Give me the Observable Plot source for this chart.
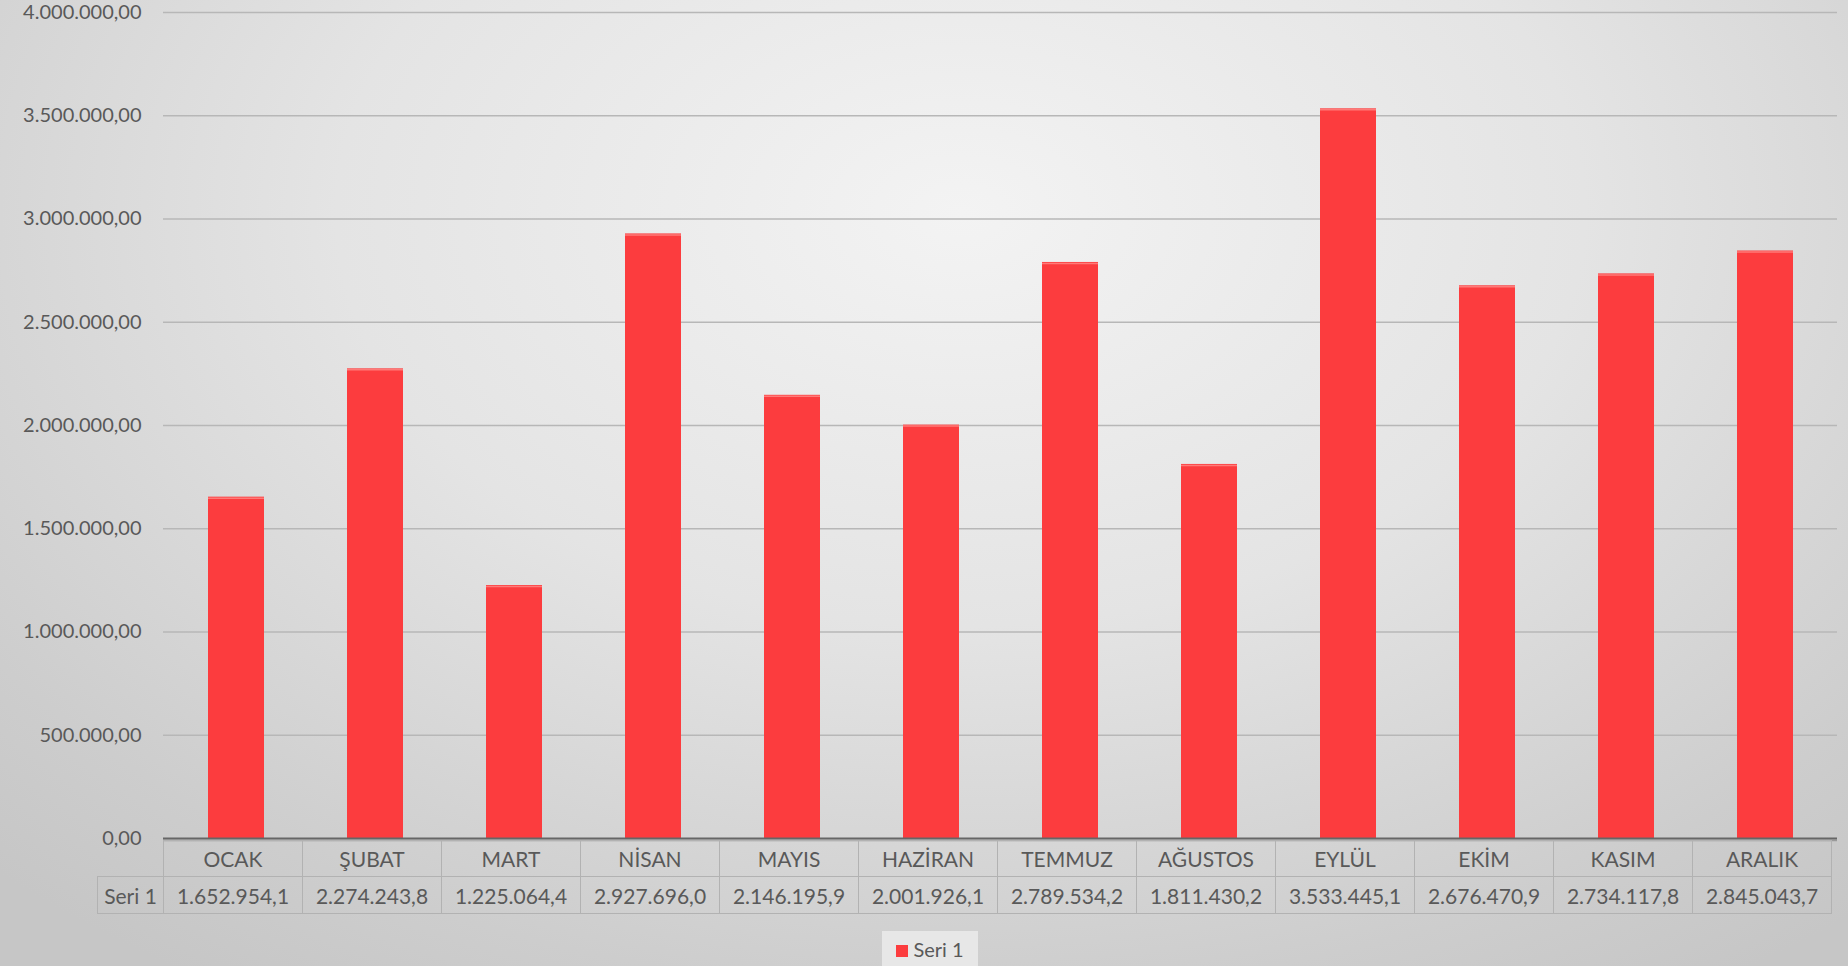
<!DOCTYPE html>
<html>
<head>
<meta charset="utf-8">
<script src="https://cdn.jsdelivr.net/npm/d3@7"></script>
<script src="https://cdn.jsdelivr.net/npm/@observablehq/plot@0.6"></script>
<style>
  html, body { margin: 0; padding: 0; }
  body {
    width: 1848px; height: 966px; overflow: hidden; position: relative;
    background: radial-gradient(ellipse 75% 95% at 52% 22%, #f3f3f3 0%, #e4e4e4 45%, #cdcdcd 85%, #c6c6c6 100%);
    font-family: Lato, "Open Sans", sans-serif;
    color: #595959;
  }
  #chart { position: absolute; left: 0; top: 0; }
  #chart svg { overflow: visible; }
  #table { position: absolute; left: 97px; top: 840px; border-collapse: collapse; table-layout: fixed; }
  #table td { border: 1px solid #b2b2b2; text-align: center; padding: 0; font-size: 21px; color: #595959; white-space: nowrap; overflow: hidden; }
  #table tr.cat td { height: 35px; }
  #table tr.val td { height: 36px; }
  #table td.blank { border: none; }
  #legend { position: absolute; left: 882px; top: 931px; width: 96px; height: 40px; background: rgba(235,235,235,0.85);
    display: flex; align-items: flex-start; justify-content: center; padding-top: 6px; box-sizing: border-box; font-size: 20px; color: #595959; }
  #legend span.sw { display: inline-block; width: 12px; height: 12px; background: #fc3c3e; margin-right: 5px; margin-top: 8px; }
</style>
</head>
<body>
<div id="chart"></div>
<table id="table"></table>
<div id="legend"></div>
<script>
const months = ["OCAK","ŞUBAT","MART","NİSAN","MAYIS","HAZİRAN","TEMMUZ","AĞUSTOS","EYLÜL","EKİM","KASIM","ARALIK"];
const values = [1652954.1, 2274243.8, 1225064.4, 2927696.0, 2146195.9, 2001926.1, 2789534.2, 1811430.2, 3533445.1, 2676470.9, 2734117.8, 2845043.7];
const seriesName = "Seri 1";
const yTicks = [0, 500000, 1000000, 1500000, 2000000, 2500000, 3000000, 3500000, 4000000];

const tr = d3.formatLocale({decimal: ",", thousands: ".", grouping: [3], currency: ["", ""]});
const fmtAxis = tr.format(",.2f");
const fmtVal = tr.format(",.1f");

const data = months.map((m, i) => ({month: m, value: values[i]}));

const W = 1848, H = 841, mL = 163, mR = 11, mT = 12, mB = 3;

const chart = Plot.plot({
  width: W, height: H,
  marginLeft: mL, marginRight: mR, marginTop: mT, marginBottom: mB,
  style: {background: "transparent", fontFamily: "Lato, 'Open Sans', sans-serif", fontSize: "20px", color: "#595959", overflow: "visible"},
  x: {domain: months, paddingInner: 0.6, paddingOuter: 0.3, axis: null},
  y: {domain: [0, 4000000], axis: null},
  marks: [
    Plot.gridY(yTicks.filter(t => t > 0), {stroke: "#b7b7b7", strokeOpacity: 1, strokeWidth: 1.6}),
    Plot.axisY(yTicks, {tickFormat: fmtAxis, tickSize: 0, tickPadding: 22, fill: "#595959", fontSize: 20, label: null}),
    Plot.barY(data, {x: "month", y: "value", fill: "#fc3c3e"}),
    Plot.tickY(data, {x: "month", y: "value", stroke: "#ff7a78", strokeWidth: 1.5, dy: 1}),
    Plot.ruleY([0], {stroke: "#9a9a9a", strokeWidth: 1.5, dy: 2}),
    Plot.ruleY([0], {stroke: "#666666", strokeWidth: 2})
  ]
});
document.getElementById("chart").appendChild(chart);

// Data table aligned with the x band scale
const xs = chart.scale("x");
const step = xs.step;
const table = d3.select("#table");
const colgroup = table.append("colgroup");
colgroup.append("col").style("width", (mL - 97) + "px");
months.forEach(() => colgroup.append("col").style("width", step + "px"));
const r1 = table.append("tr").attr("class", "cat");
r1.append("td").attr("class", "blank");
months.forEach(m => r1.append("td").text(m));
const r2 = table.append("tr").attr("class", "val");
r2.append("td").text(seriesName);
values.forEach(v => r2.append("td").text(fmtVal(v)));

const legend = d3.select("#legend");
legend.append("span").attr("class", "sw");
legend.append("span").text(seriesName);
</script>
</body>
</html>
